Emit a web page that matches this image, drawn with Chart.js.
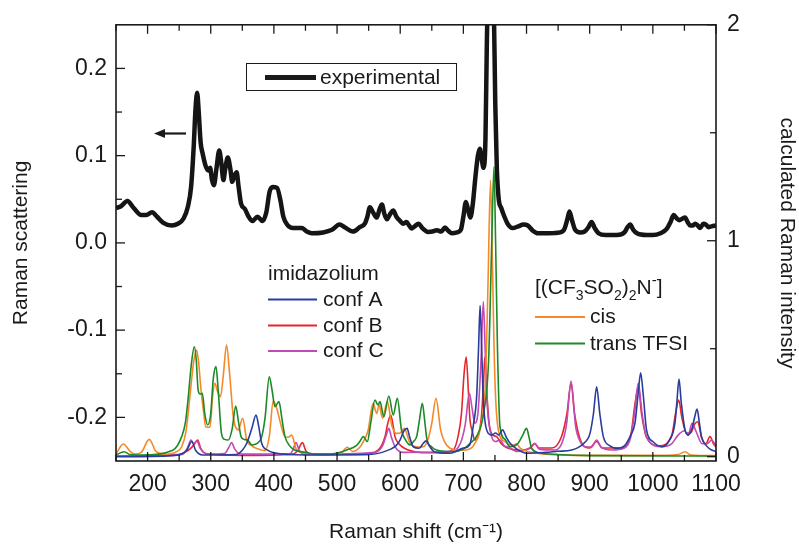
<!DOCTYPE html>
<html>
<head>
<meta charset="utf-8">
<script src="https://cdn.jsdelivr.net/npm/chart.js@4.4.0/dist/chart.umd.min.js"></script>
<style>
  html, body { margin: 0; padding: 0; background: #fff; }
  #wrap { width: 799px; height: 546px; }
</style>
</head>
<body>
<div id="wrap"><canvas id="chart" width="799" height="546"></canvas></div>
<script>
// experimental spectrum, left axis (Raman scattering)
var experimental = [
  [150,0.040],[158,0.042],[168,0.048],[178,0.040],[190,0.032],[198,0.032],[207,0.035],[215,0.030],
  [225,0.023],[238,0.020],[248,0.022],[257,0.028],[264,0.042],[269,0.065],[273,0.110],[276,0.155],
  [278.5,0.172],[281,0.150],[284,0.115],[287,0.103],[292,0.088],[296,0.083],[299,0.086],[302,0.072],
  [305,0.066],[309,0.085],[313.5,0.106],[317,0.090],[320,0.072],[323,0.085],[327,0.098],[331,0.085],
  [334,0.070],[337,0.076],[341,0.081],[344,0.065],[348,0.045],[354,0.039],[360,0.030],[366,0.025],
  [374,0.030],[382,0.025],[388,0.035],[393,0.058],[398,0.064],[405,0.063],[410,0.050],[415,0.030],
  [422,0.020],[430,0.017],[444,0.017],[452,0.013],[460,0.011],[478,0.012],[492,0.015],[504,0.021],
  [512,0.018],[525,0.013],[536,0.018],[544,0.022],[548,0.030],[552,0.041],[557,0.035],[563,0.029],
  [567,0.038],[571,0.044],[575,0.033],[579,0.027],[584,0.033],[589,0.037],[594,0.030],[600,0.025],
  [605,0.022],[610,0.024],[614,0.020],[618,0.0165],[623,0.019],[629,0.022],[635,0.017],[644,0.0126],
  [651,0.013],[658,0.0145],[665,0.013],[671,0.0176],[676,0.014],[682,0.011],[690,0.012],[696,0.015],
  [700,0.030],[704,0.047],[707.5,0.038],[711,0.029],[715,0.045],[719,0.075],[723,0.100],[726,0.108],
  [729,0.096],[732,0.086],[735,0.120],[737,0.220],[739,0.300],[742,0.330],[745,0.320],[748,0.280],
  [750.5,0.160],[753,0.085],[756,0.050],[760,0.040],[765,0.030],[770,0.022],[778,0.017],[787,0.019],
  [795,0.021],[802,0.020],[810,0.014],[818,0.011],[835,0.011],[853,0.012],[860,0.016],[865,0.028],
  [868,0.036],[872,0.026],[877,0.015],[885,0.012],[892,0.013],[898,0.018],[903,0.024],[908,0.017],
  [914,0.011],[925,0.009],[943,0.009],[955,0.012],[960,0.018],[964,0.021],[969,0.015],[975,0.011],
  [990,0.009],[1000,0.009],[1012,0.011],[1022,0.016],[1028,0.024],[1033,0.032],[1038,0.028],[1042,0.026],
  [1047,0.028],[1051,0.029],[1055,0.024],[1059,0.020],[1063,0.020],[1067,0.022],[1071,0.020],[1075,0.017],
  [1080,0.022],[1084,0.021],[1088,0.018],[1093,0.019],[1100,0.020]
];

// calculated spectra, right axis (calculated Raman intensity)
var confA = [
  [150,0.000],[240,0.005],[262,0.030],[270,0.070],[276,0.030],[287,0.008],[340,0.010],[350,0.030],
  [357,0.062],[365,0.130],[371.7,0.193],[376,0.140],[380.7,0.062],[390,0.030],[400,0.018],[450,0.008],
  [550,0.010],[585,0.035],[593,0.050],[599.7,0.077],[606,0.120],[611,0.131],[615,0.090],[620.7,0.046],
  [630,0.039],[636,0.060],[641,0.073],[646,0.050],[654,0.023],[679,0.016],[700,0.040],[710,0.054],
  [716,0.150],[721,0.278],[724,0.500],[726.5,0.700],[729,0.500],[731,0.300],[734,0.170],[739.5,0.108],
  [745,0.100],[751,0.110],[756,0.100],[762,0.124],[768,0.090],[774,0.062],[785,0.035],[800,0.016],
  [830,0.020],[850,0.025],[871.5,0.031],[890,0.060],[900.5,0.108],[906,0.200],[911,0.324],[916,0.200],
  [921.6,0.093],[932,0.050],[945,0.039],[955,0.050],[965,0.100],[971.7,0.155],[977,0.300],[980.7,0.389],
  [985,0.280],[990,0.124],[1000,0.070],[1014,0.046],[1025,0.070],[1035,0.155],[1038,0.250],[1041.4,0.360],
  [1045,0.250],[1051,0.124],[1056,0.100],[1062,0.130],[1066,0.180],[1070,0.220],[1074,0.150],[1077,0.093],
  [1085,0.050],[1093,0.031],[1100,0.025]
];
var confB = [
  [150,0.003],[250,0.010],[265,0.030],[272,0.050],[279.3,0.077],[284,0.040],[292,0.015],[350,0.006],
  [430,0.012],[438,0.030],[445,0.065],[451,0.025],[460,0.012],[540,0.010],[565,0.030],[576,0.093],
  [580,0.150],[585,0.193],[589,0.140],[591.7,0.093],[598,0.060],[606,0.040],[630,0.020],[660,0.018],
  [684,0.031],[692,0.100],[697,0.200],[701,0.380],[704.5,0.461],[708,0.300],[710.5,0.170],[714,0.120],
  [718,0.077],[724,0.100],[729,0.200],[732,0.350],[734,0.463],[737,0.300],[741,0.150],[747,0.100],
  [752.7,0.093],[760,0.060],[770,0.040],[790,0.030],[806,0.040],[813,0.060],[820,0.040],[840,0.040],
  [855,0.090],[864,0.200],[870.5,0.340],[876,0.200],[885,0.080],[900,0.040],[911,0.070],[920,0.040],
  [950,0.040],[965,0.100],[972,0.250],[977,0.324],[982,0.200],[990,0.090],[1010,0.050],[1030,0.100],
  [1036,0.200],[1041,0.262],[1046,0.180],[1053,0.110],[1060,0.110],[1066,0.150],[1071,0.162],[1077,0.090],
  [1084,0.060],[1090.5,0.093],[1096,0.060],[1100,0.045]
];
var confC = [
  [150,0.003],[255,0.010],[263,0.040],[268.7,0.077],[273,0.060],[278,0.072],[284,0.035],[295,0.012],
  [322,0.015],[328,0.040],[333,0.065],[338,0.035],[348,0.012],[425,0.012],[430,0.030],[435,0.065],
  [440,0.030],[450,0.010],[560,0.020],[572,0.050],[578,0.100],[582,0.131],[586,0.090],[592,0.045],
  [605,0.020],[680,0.025],[695,0.060],[703,0.150],[709.5,0.293],[714,0.220],[718,0.155],[723,0.200],
  [728,0.450],[731.6,0.718],[735,0.450],[738,0.231],[744.8,0.093],[751,0.070],[758,0.077],[765,0.050],
  [770,0.046],[785,0.024],[805,0.040],[813,0.062],[820,0.035],[846,0.031],[857,0.070],[863.6,0.155],
  [870.5,0.350],[877.8,0.139],[885,0.070],[892.6,0.046],[903,0.045],[911,0.077],[918,0.045],[934.8,0.031],
  [955,0.040],[965,0.090],[971,0.200],[977,0.340],[983,0.200],[990,0.090],[1014,0.046],[1030,0.060],
  [1040,0.100],[1050,0.120],[1056,0.100],[1062,0.155],[1068,0.120],[1078,0.060],[1086,0.060],[1093,0.077],
  [1100,0.050]
];
var cisTFSI = [
  [150,0.012],[161.6,0.059],[172,0.026],[180,0.012],[190,0.020],[202.7,0.080],[213,0.026],[227.6,0.012],
  [245,0.022],[254,0.046],[261,0.120],[267,0.278],[273,0.440],[277.7,0.494],[281,0.430],[284.6,0.309],
  [289,0.200],[292,0.139],[298.8,0.136],[303,0.280],[306.5,0.340],[311,0.300],[315.5,0.278],[320,0.380],
  [325,0.517],[330,0.380],[335.7,0.185],[343.6,0.124],[350.6,0.178],[357,0.077],[365,0.050],[372,0.039],
  [386,0.028],[393,0.100],[399,0.259],[405,0.220],[410,0.160],[417.6,0.093],[423,0.090],[428,0.100],
  [436,0.031],[450,0.016],[470,0.012],[505,0.014],[516,0.044],[525,0.024],[535,0.040],[541.6,0.070],
  [549,0.120],[557,0.247],[562.7,0.200],[566.5,0.239],[572,0.178],[579.6,0.255],[586.5,0.147],[594,0.108],
  [600,0.110],[606.5,0.131],[615.5,0.062],[627,0.045],[636.6,0.046],[645,0.090],[650,0.155],[656.7,0.270],
  [664,0.124],[670,0.070],[679,0.039],[692,0.030],[705,0.031],[718,0.060],[728,0.150],[735,0.350],
  [739,0.800],[743,1.280],[746,0.900],[749,0.450],[752,0.220],[758,0.093],[766,0.070],[772,0.055],
  [779,0.054],[784,0.060],[790,0.040],[800,0.025],[830,0.012],[900,0.006],[1000,0.006],[1040,0.010],
  [1051,0.023],[1060,0.008],[1100,0.005]
];
var transTFSI = [
  [150,0.008],[163,0.023],[172,0.010],[190,0.008],[240,0.030],[254,0.093],[260,0.160],[264.5,0.278],
  [269,0.420],[274,0.509],[277,0.450],[280,0.309],[283,0.290],[286.7,0.294],[290.5,0.200],[295,0.147],
  [300,0.200],[304,0.360],[308.3,0.417],[312,0.300],[317,0.108],[322,0.080],[327.8,0.077],[334,0.130],
  [339.5,0.235],[344,0.160],[348,0.093],[353,0.080],[358.5,0.077],[365,0.054],[373,0.060],[380.7,0.093],
  [386,0.180],[392.7,0.370],[397,0.310],[401.7,0.231],[408,0.255],[413,0.170],[417.6,0.093],[425,0.050],
  [433,0.031],[450,0.020],[465,0.012],[490,0.012],[505,0.020],[515,0.031],[530,0.050],[536,0.070],
  [541.6,0.093],[548,0.070],[553,0.150],[560,0.262],[565,0.239],[568,0.255],[574,0.185],[582,0.281],
  [589,0.193],[595.4,0.270],[602,0.124],[608,0.080],[615.5,0.054],[621,0.070],[626,0.093],[630,0.160],
  [635,0.247],[639,0.160],[642,0.085],[650,0.045],[657.8,0.031],[684,0.023],[700,0.035],[710.5,0.062],
  [722,0.100],[732,0.200],[740,0.450],[745,1.000],[748.5,1.343],[751,1.000],[754,0.500],[758,0.139],
  [766,0.080],[774,0.046],[786,0.060],[794,0.100],[800,0.131],[804,0.090],[808,0.039],[820,0.018],
  [850,0.010],[900,0.005],[1100,0.003]
];

// axis ticks
var xMajorTicks = [200, 300, 400, 500, 600, 700, 800, 900, 1000, 1100];
var xMinorTicks = [150, 250, 350, 450, 550, 650, 750, 850, 950, 1050];
var leftMajorTicks = [-0.2, -0.1, 0.0, 0.1, 0.2];
var leftMinorTicks = [-0.15, -0.05, 0.05, 0.15];
var rightMajorTicks = [0, 1, 2];
var rightMinorTicks = [0.5, 1.5];

var INK = '#1a1a1a';
var FONT = "'Liberation Sans', Arial, Helvetica, sans-serif";
Chart.defaults.font.family = FONT;
Chart.defaults.color = INK;

function series(label, pts, color, axis, width) {
  return {
    label: label,
    data: pts.map(function (p) { return { x: p[0], y: p[1] }; }),
    borderColor: color,
    backgroundColor: color,
    borderWidth: width,
    yAxisID: axis,
    pointRadius: 0,
    fill: false,
    cubicInterpolationMode: 'monotone',
    clip: 0
  };
}

function setTicks(vals) {
  return function (scale) { scale.ticks = vals.map(function (v) { return { value: v }; }); };
}

// inward ticks, frame and the in-plot legends
var decorations = {
  id: 'decorations',
  afterDraw: function (chart) {
    var ctx = chart.ctx, a = chart.chartArea, s = chart.scales;
    ctx.save();
    ctx.strokeStyle = INK;
    ctx.fillStyle = INK;
    ctx.lineCap = 'butt';

    function seg(x1, y1, x2, y2) { ctx.beginPath(); ctx.moveTo(x1, y1); ctx.lineTo(x2, y2); ctx.stroke(); }

    ctx.lineWidth = 1.3;
    xMajorTicks.concat(xMinorTicks).forEach(function (v) {
      var len = xMajorTicks.indexOf(v) >= 0 ? 9 : 6;
      var px = s.x.getPixelForValue(v);
      seg(px, a.bottom, px, a.bottom - len);
      seg(px, a.top, px, a.top + len);
    });
    leftMajorTicks.concat(leftMinorTicks).forEach(function (v) {
      var len = leftMajorTicks.indexOf(v) >= 0 ? 9 : 6;
      var py = s.y.getPixelForValue(v);
      seg(a.left, py, a.left + len, py);
    });
    rightMajorTicks.concat(rightMinorTicks).forEach(function (v) {
      var len = rightMajorTicks.indexOf(v) >= 0 ? 9 : 6;
      var py = s.y1.getPixelForValue(v);
      seg(a.right, py, a.right - len, py);
    });

    ctx.lineWidth = 1.6;
    ctx.strokeRect(a.left, a.top, a.right - a.left, a.bottom - a.top);

    // experimental legend box
    ctx.lineWidth = 1;
    ctx.strokeRect(246.5, 63.5, 210, 27);
    ctx.lineWidth = 5;
    seg(265, 77.5, 316, 77.5);
    ctx.font = '21px ' + FONT;
    ctx.textBaseline = 'middle';
    ctx.textAlign = 'left';
    ctx.fillText('experimental', 320, 78);

    // arrow pointing at the left axis
    ctx.lineWidth = 2.2;
    seg(186, 133.5, 162, 133.5);
    ctx.beginPath();
    ctx.moveTo(154, 133.5); ctx.lineTo(165, 129); ctx.lineTo(165, 138); ctx.closePath(); ctx.fill();

    // imidazolium legend
    ctx.fillText('imidazolium', 268, 274);
    var imi = [['conf A', colors.a, 299.5], ['conf B', colors.b, 325.5], ['conf C', colors.c, 351]];
    imi.forEach(function (it) {
      ctx.strokeStyle = it[1]; ctx.lineWidth = 2;
      seg(268, it[2], 317, it[2]);
      ctx.fillStyle = INK;
      ctx.fillText(it[0], 323, it[2] + 0.5);
    });

    // anion legend with sub/superscripts
    var x = 535, base = 294;
    ctx.textBaseline = 'alphabetic';
    [['[(CF', 21, 0], ['3', 14, 6], ['SO', 21, 0], ['2', 14, 6], [')', 21, 0], ['2', 14, 6],
     ['N', 21, 0], ['-', 15, -9], [']', 21, 0]].forEach(function (p) {
      ctx.font = p[1] + 'px ' + FONT;
      ctx.fillText(p[0], x, base + p[2]);
      x += ctx.measureText(p[0]).width;
    });
    ctx.font = '21px ' + FONT;
    ctx.textBaseline = 'middle';
    var an = [['cis', colors.cis, 317], ['trans TFSI', colors.trans, 343.5]];
    an.forEach(function (it) {
      ctx.strokeStyle = it[1]; ctx.lineWidth = 2;
      seg(535, it[2], 585, it[2]);
      ctx.fillStyle = INK;
      ctx.fillText(it[0], 590, it[2] + 0.5);
    });
    ctx.restore();
  }
};

var colors = {
  a: '#2a3c9c', b: '#e5262c', c: '#c04ab6', cis: '#f5892a', trans: '#1c8a26'
};

new Chart(document.getElementById('chart').getContext('2d'), {
  type: 'line',
  data: {
    datasets: [
      series('conf A', confA, colors.a, 'y1', 1.6),
      series('trans TFSI', transTFSI, colors.trans, 'y1', 1.6),
      series('cis', cisTFSI, colors.cis, 'y1', 1.6),
      series('conf C', confC, colors.c, 'y1', 1.6),
      series('conf B', confB, colors.b, 'y1', 1.6),
      series('experimental', experimental, '#151515', 'y', 4.5)
    ]
  },
  options: {
    responsive: false,
    animation: false,
    events: [],
    layout: { padding: { top: 24.5, left: 0, right: 0, bottom: 0 } },
    plugins: { legend: { display: false }, tooltip: { enabled: false } },
    scales: {
      x: {
        type: 'linear', min: 150, max: 1100,
        grid: { display: false, drawTicks: false }, border: { display: false },
        afterBuildTicks: setTicks(xMajorTicks),
        afterFit: function (sc) { sc.height = 85; },
        ticks: { font: { size: 23 }, padding: 10, maxRotation: 0, autoSkip: false,
                 callback: function (v) { return String(v); } },
        title: { display: true, text: 'Raman shift (cm\u207B\u00B9)', font: { size: 21 },
                 padding: { top: 0, bottom: 1 } }
      },
      y: {
        position: 'left', min: -0.25, max: 0.25,
        grid: { display: false, drawTicks: false }, border: { display: false },
        afterBuildTicks: setTicks(leftMajorTicks),
        afterFit: function (sc) { sc.width = 116; },
        ticks: { font: { size: 23 }, padding: 9, callback: function (v) { return v.toFixed(1); } },
        title: { display: true, text: 'Raman scattering', font: { size: 21 },
                 padding: { top: 9, bottom: 0 } }
      },
      y1: {
        position: 'right', min: -0.02, max: 2,
        grid: { display: false, drawTicks: false }, border: { display: false },
        afterBuildTicks: setTicks(rightMajorTicks),
        afterFit: function (sc) { sc.width = 83; },
        ticks: { font: { size: 23 }, padding: 11, callback: function (v) { return String(v); } },
        title: { display: true, text: 'calculated Raman intensity', font: { size: 21 },
                 padding: { top: 0, bottom: 0 } }
      }
    }
  },
  plugins: [decorations]
});
</script>
</body>
</html>
